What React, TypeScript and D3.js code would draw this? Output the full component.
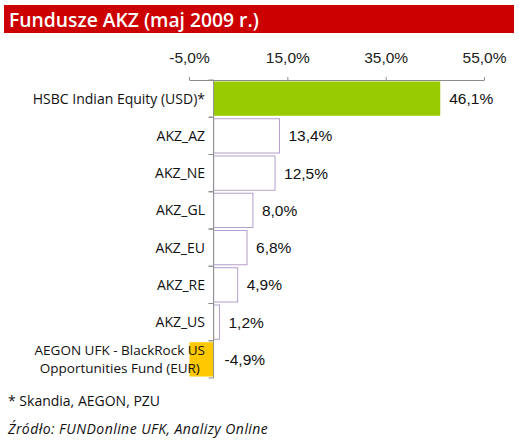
import React, { useEffect, useRef } from "react";
import * as d3 from "d3";

// Fund names (label lines) and May 2009 returns in %
const categories = [
  ["HSBC Indian Equity (USD)*"],
  ["AKZ_AZ"],
  ["AKZ_NE"],
  ["AKZ_GL"],
  ["AKZ_EU"],
  ["AKZ_RE"],
  ["AKZ_US"],
  ["AEGON UFK - BlackRock US", "Opportunities Fund (EUR)"],
];
const returns = [46.1, 13.4, 12.5, 8.0, 6.8, 4.9, 1.2, -4.9];
const xTicks = [-5, 15, 35, 55];
const title = "Fundusze AKZ (maj 2009 r.)";
const footnote = "* Skandia, AEGON, PZU";
const source = "Źródło: FUNDonline UFK, Analizy Online";

const fmt = (v: number) => d3.format(".1f")(v).replace(".", ",").replace("−", "-") + "%";

export default function App() {
  const svgRef = useRef<SVGSVGElement | null>(null);

  useEffect(() => {
    const width = 519;
    const height = 446;
    const svg = d3.select(svgRef.current).attr("width", width).attr("height", height);
    svg.selectAll("*").remove();

    const labelFont = "'Open Sans', 'DejaVu Sans', sans-serif";
    const numFont = "'Liberation Sans', Arial, sans-serif";
    const axisColor = "#8c8c8c";

    // title bar
    svg.append("rect").attr("x", 4).attr("y", 5).attr("width", 510).attr("height", 28).attr("fill", "#cc0000");
    svg
      .append("text")
      .attr("x", 9)
      .attr("y", 27)
      .attr("fill", "#fff")
      .style("font-family", labelFont)
      .style("font-size", "19.3px")
      .style("font-weight", 600)
      .text(title);

    const x = d3.scaleLinear().domain([-5, 55]).range([189, 484]);
    const ids = categories.map((_, i) => String(i));
    const yOuter = d3.scaleBand().domain(ids).range([80, 378]);
    const y = d3.scaleBand().domain(ids).range([80, 378]).paddingInner(0.08).paddingOuter(0.04);

    // top axis
    const xAxis = d3
      .axisTop(x)
      .tickValues(xTicks)
      .tickSize(3)
      .tickSizeOuter(0)
      .tickPadding(14)
      .tickFormat((d) => fmt(d as number));
    const gx = svg.append("g").attr("transform", "translate(0,80)").call(xAxis);
    gx.select(".domain").attr("stroke", axisColor);
    gx.selectAll(".tick line").attr("stroke", axisColor);
    gx.selectAll(".tick text")
      .attr("fill", "#222")
      .style("font-family", numFont)
      .style("font-size", "15.5px");

    // bars
    const bars = svg.append("g");
    returns.forEach((v, i) => {
      const x0 = x(Math.min(0, v));
      const x1 = x(Math.max(0, v));
      const fill = i === 0 ? "#99cc00" : v < 0 ? "#ffc800" : "#fff";
      const stroke = i === 0 || v < 0 ? "none" : "#b4a0cc";
      bars
        .append("rect")
        .attr("x", x0)
        .attr("y", y(String(i))!)
        .attr("width", x1 - x0)
        .attr("height", y.bandwidth())
        .attr("fill", fill)
        .attr("stroke", stroke)
        .attr("stroke-width", 1);
    });

    // vertical axis with ticks at band edges
    const gy = svg.append("g").attr("stroke", axisColor).attr("fill", "none");
    gy.append("line").attr("x1", x(0)).attr("x2", x(0)).attr("y1", 80).attr("y2", 378);
    ids.forEach((id) => {
      [yOuter(id)!, yOuter(id)! + yOuter.bandwidth()].forEach((yy) => {
        gy.append("line").attr("x1", x(0) - 5).attr("x2", x(0)).attr("y1", yy).attr("y2", yy);
      });
    });

    // value labels
    returns.forEach((v, i) => {
      svg
        .append("text")
        .attr("x", x(Math.max(0, v)) + (v < 0 ? 11 : 9))
        .attr("y", y(String(i))! + y.bandwidth() / 2)
        .attr("dy", "0.36em")
        .attr("fill", "#111")
        .style("font-family", numFont)
        .style("font-size", "15.5px")
        .text(fmt(v));
    });

    // category labels
    categories.forEach((lines, i) => {
      const cy = yOuter(String(i))! + yOuter.bandwidth() / 2;
      const multi = lines.length > 1;
      const t = svg
        .append("text")
        .attr("fill", "#111")
        .style("font-family", labelFont)
        .style("font-size", multi ? "13.5px" : "14px");
      const lh = 18.5;
      lines.forEach((line, j) => {
        t.append("tspan")
          .attr("x", 205)
          .attr("y", cy + (j - (lines.length - 1) / 2) * lh)
          .attr("dy", "0.36em")
          .text(line);
      });
      if (multi) {
        // multi-line labels are centred on their widest line
        const spans = t.selectAll<SVGTSpanElement, unknown>("tspan").nodes();
        const w = d3.max(spans, (s) => s.getComputedTextLength()) || 0;
        t.selectAll("tspan").attr("x", 205 - w / 2);
        t.attr("text-anchor", "middle");
      } else {
        t.attr("text-anchor", "end");
      }
    });

    // footnotes
    svg
      .append("text")
      .attr("x", 8)
      .attr("y", 406)
      .attr("fill", "#111")
      .style("font-family", labelFont)
      .style("font-size", "14px")
      .text(footnote);
    svg
      .append("text")
      .attr("x", 8)
      .attr("y", 434)
      .attr("fill", "#111")
      .style("font-family", labelFont)
      .style("font-size", "14px")
      .style("font-style", "italic")
      .style("letter-spacing", "0.45px")
      .text(source);
  }, []);

  return <svg ref={svgRef} style={{ position: "absolute", left: 0, top: 0 }}></svg>;
}
